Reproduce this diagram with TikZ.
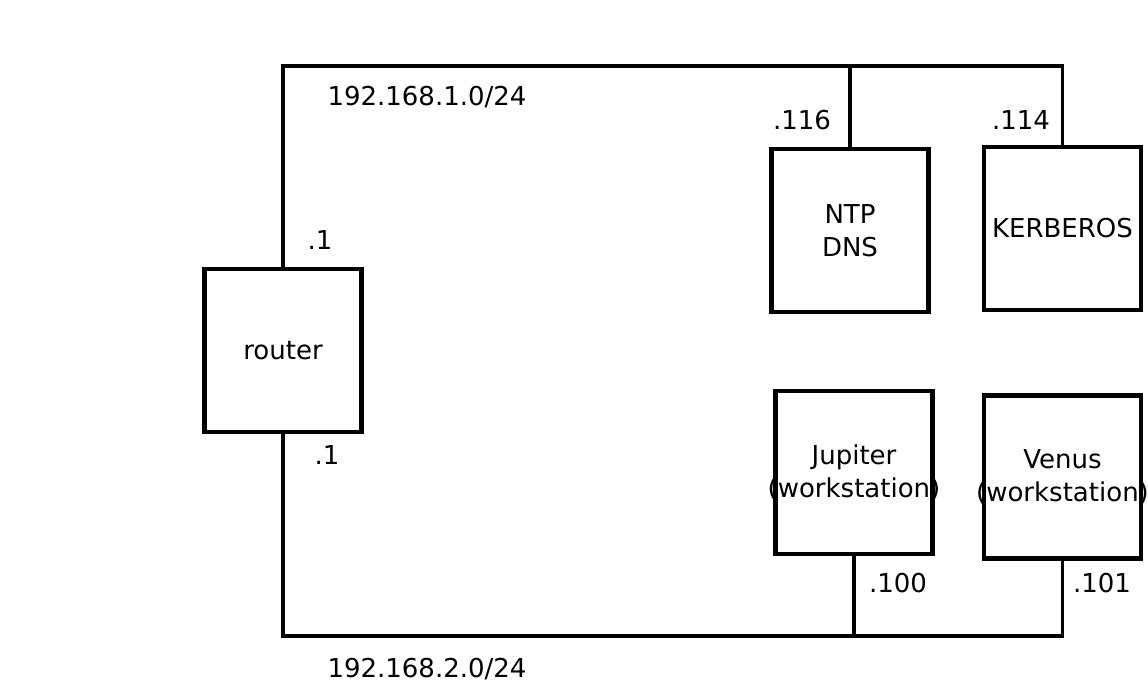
\documentclass[tikz,border=0pt]{standalone}
\usepackage{fontspec}
\setmainfont{DejaVu Sans}
\usetikzlibrary{positioning}

\begin{document}
\begin{tikzpicture}[x=0.02cm, y=-0.02cm, line width=2.2pt,
  every node/.style={font=\fontsize{14.8}{18.8}\selectfont},
  hostbox/.style={draw, line width=2.4pt, minimum width=3.14cm, minimum height=3.26cm, inner sep=0pt},
  hosttext/.style={align=center, inner sep=0pt}]

\useasboundingbox (0,0) rectangle (1148,683);

% router
\node[hostbox] (router) at (283,350.5) {};
\node[hosttext] at (router) {router};

% servers on 192.168.1.0/24
\node[hostbox] (ntp) at (850,230.5) {};
\node[hosttext] at (ntp) {NTP\\DNS};
\node[hostbox] (kerberos) at (1062.5,228.5) {};
\node[hosttext] at (kerberos) {KERBEROS};

% workstations on 192.168.2.0/24
\node[hostbox] (jupiter) at (854,472.5) {};
\node[hosttext] at (jupiter) {Jupiter\\(workstation)};
\node[hostbox] (venus) at (1062.5,477) {};
\node[hosttext] at (venus) {Venus\\(workstation)};

% corners of both networks
\coordinate (net1l) at (283,66);
\coordinate (net1r) at (1062.5,66);
\coordinate (net2l) at (283,636);
\coordinate (net2r) at (1062.5,636);

% network 1
\draw (router.north) -- (net1l) -- (net1r) -- (kerberos.north);
\draw (ntp.north) -- (ntp.north |- net1l);

% network 2
\draw (router.south) -- (net2l) -- (net2r) -- (venus.south);
\draw (jupiter.south) -- (jupiter.south |- net2l);

% addresses
\node (net1) at (427,97) {192.168.1.0/24};
\node (net2) at (427,669) {192.168.2.0/24};
\node (ip116) at (802,120) {.116};
\node (ip114) at (1021,120) {.114};
\node (ip1a) at (320,240) {.1};
\node (ip1b) at (327,455) {.1};
\node (ip100) at (898,583) {.100};
\node (ip101) at (1102,583) {.101};

\end{tikzpicture}
\end{document}
